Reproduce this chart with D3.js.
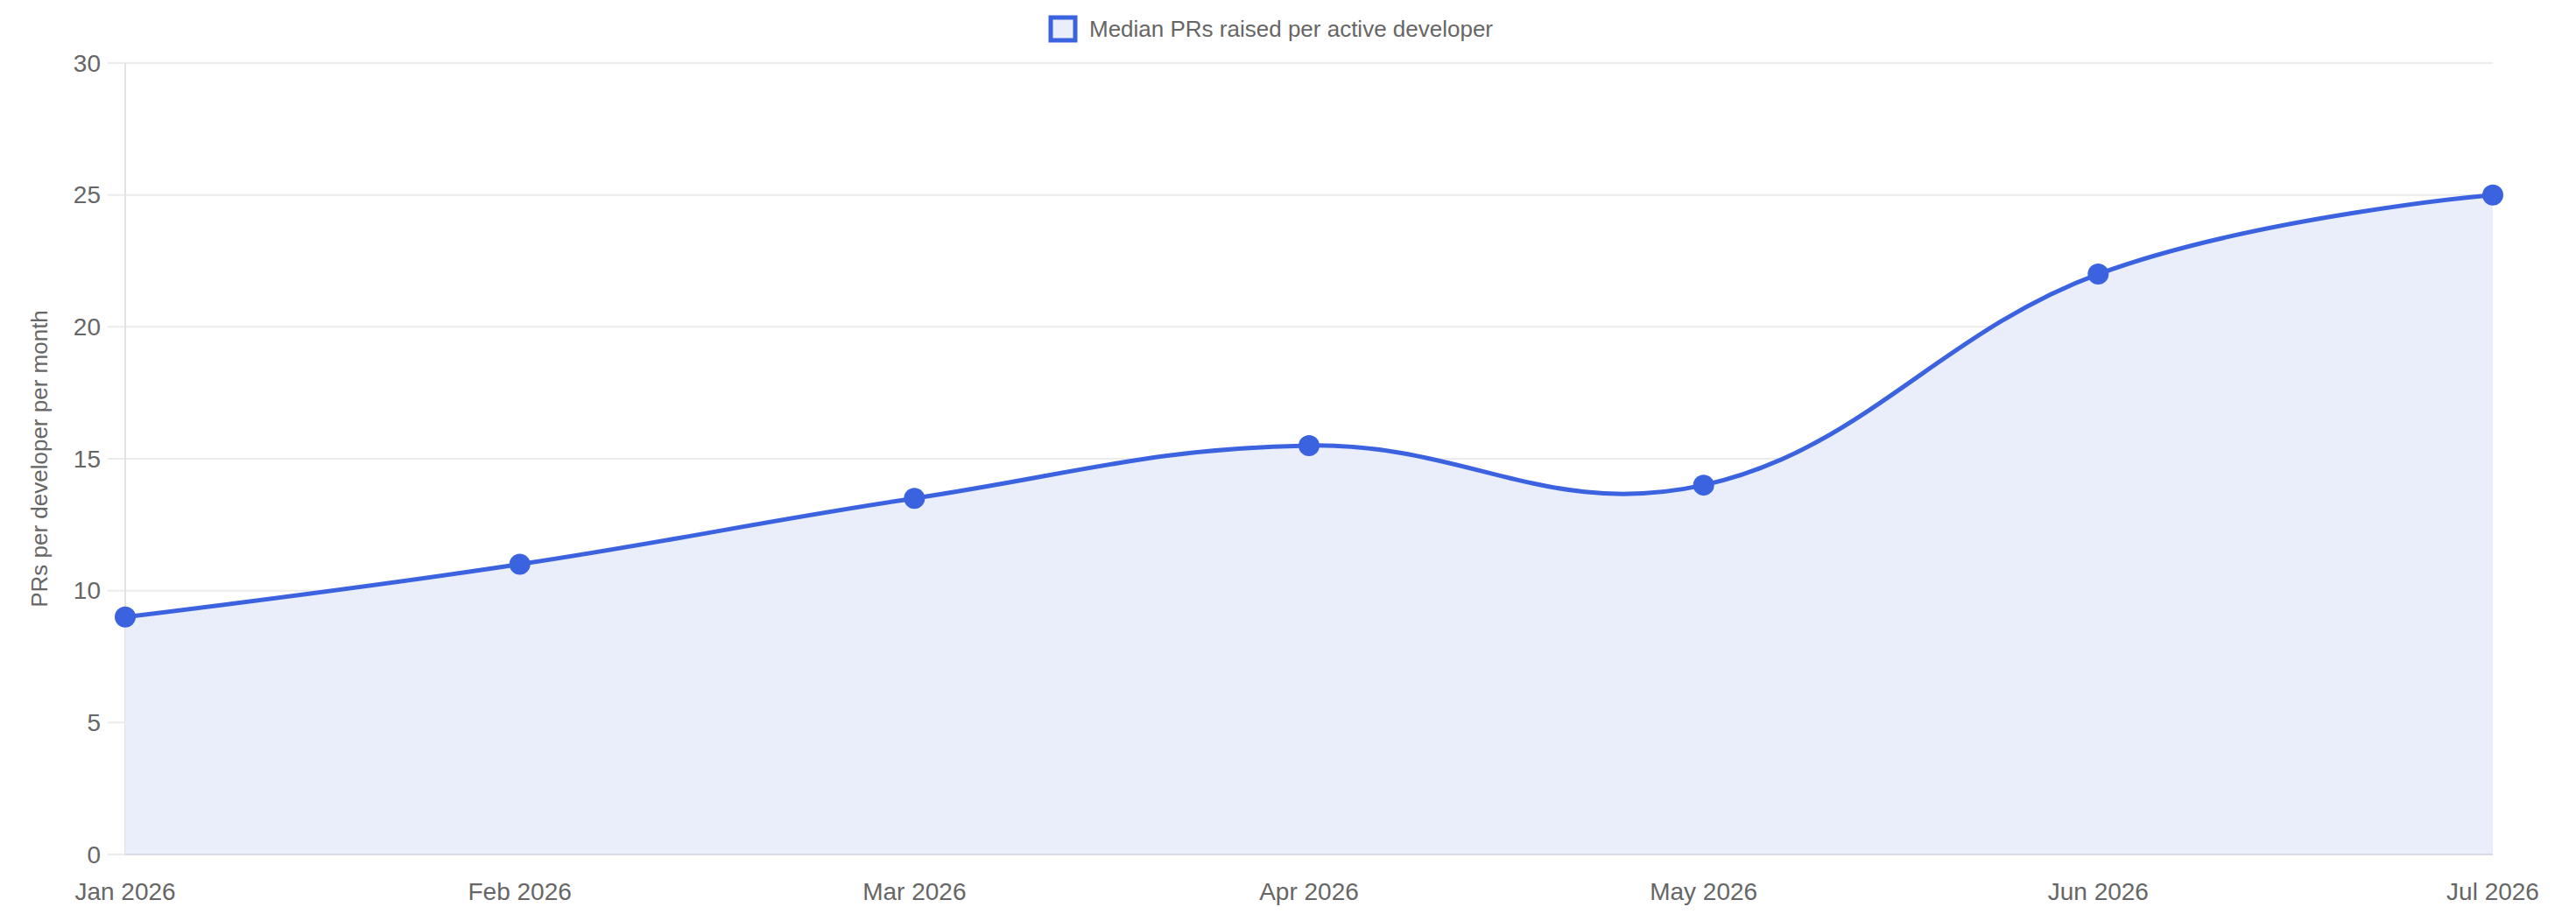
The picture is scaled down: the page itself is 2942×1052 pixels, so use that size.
<!DOCTYPE html>
<html>
<head>
<meta charset="UTF-8">
<script src="https://cdn.jsdelivr.net/npm/d3@7"></script>
<style>
body { margin: 0; background: #fff; font-family: "Helvetica Neue", "Liberation Sans", Arial, sans-serif; }
</style>
</head>
<body>
<svg id="chart" width="2942" height="1052"></svg>
<script>
// chart data
var months = ["Jan 2026", "Feb 2026", "Mar 2026", "Apr 2026", "May 2026", "Jun 2026", "Jul 2026"];
var medianPRs = [9, 11, 13.5, 15.5, 14, 22, 25];
var yTicks = [0, 5, 10, 15, 20, 25, 30];
var seriesName = "Median PRs raised per active developer";
var yTitle = "PRs per developer per month";

var lineColor = "#3b63e0";
var fillColor = "#eaeefa";
var textColor = "#666";

var margin = { left: 143, right: 2942 - 2847, top: 72, bottom: 1052 - 976 };
var svg = d3.select("#chart");

var x = d3.scalePoint().domain(months).range([margin.left, 2847]);
var y = d3.scaleLinear().domain([0, 30]).range([976, margin.top]);

// grid
svg.append("g").selectAll("line").data(yTicks).join("line")
    .attr("x1", margin.left - 20).attr("x2", 2847)
    .attr("y1", d => y(d)).attr("y2", d => y(d))
    .attr("stroke", "#ebebeb").attr("stroke-width", 2);

svg.append("line")
    .attr("x1", margin.left).attr("x2", margin.left)
    .attr("y1", margin.top).attr("y2", y(0))
    .attr("stroke", "#e2e2e2").attr("stroke-width", 2);

// y tick labels
svg.append("g").selectAll("text").data(yTicks).join("text")
    .attr("x", 115).attr("y", d => y(d))
    .attr("dy", "0.35em")
    .attr("text-anchor", "end")
    .attr("font-size", 28).attr("fill", textColor)
    .text(d => d);

// x tick labels
svg.append("g").selectAll("text").data(months).join("text")
    .attr("x", d => x(d)).attr("y", 1028)
    .attr("text-anchor", "middle")
    .attr("font-size", 28).attr("fill", textColor)
    .text(d => d);

// axis title
svg.append("text")
    .attr("transform", "translate(54," + ((margin.top + y(0)) / 2) + ") rotate(-90)")
    .attr("text-anchor", "middle")
    .attr("font-size", 26).attr("fill", textColor)
    .text(yTitle);

var curve = d3.curveCardinal.tension(-0.2);

var area = d3.area()
    .x((d, i) => x(months[i]))
    .y0(y(0))
    .y1(d => y(d))
    .curve(curve);

var line = d3.line()
    .x((d, i) => x(months[i]))
    .y(d => y(d))
    .curve(curve);

svg.append("path").datum(medianPRs)
    .attr("d", area).attr("fill", fillColor);

svg.append("line")
    .attr("x1", margin.left).attr("x2", 2847)
    .attr("y1", y(0)).attr("y2", y(0))
    .attr("stroke", "#d8dbe3").attr("stroke-width", 2);

svg.append("path").datum(medianPRs)
    .attr("d", line).attr("fill", "none")
    .attr("stroke", lineColor).attr("stroke-width", 5);

svg.append("g").selectAll("circle").data(medianPRs).join("circle")
    .attr("cx", (d, i) => x(months[i]))
    .attr("cy", d => y(d))
    .attr("r", 12)
    .attr("fill", lineColor);

// legend
var legend = svg.append("g");
legend.append("rect")
    .attr("x", 1200).attr("y", 20).attr("width", 28).attr("height", 26)
    .attr("fill", fillColor).attr("stroke", lineColor).attr("stroke-width", 5);
legend.append("text")
    .attr("x", 1244).attr("y", 33).attr("dy", "0.35em")
    .attr("font-size", 26).attr("fill", textColor)
    .text(seriesName);
</script>
</body>
</html>
